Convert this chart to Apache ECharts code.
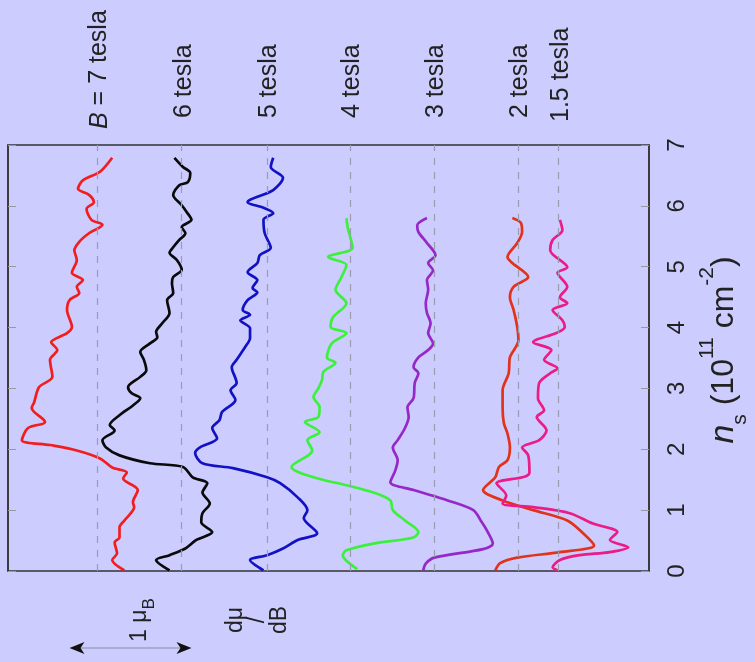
<!DOCTYPE html>
<html><head><meta charset="utf-8">
<script src="https://cdn.jsdelivr.net/npm/echarts@6/dist/echarts.min.js"></script>
<style>html,body{margin:0;padding:0;background:#ccccff;}#c{width:755px;height:662px;}</style>
</head><body><div id="c"></div>
<script>
// ---- data ----
const fieldLabels = ['{i|B} = 7 tesla', '6 tesla', '5 tesla', '4 tesla', '3 tesla', '2 tesla', '1.5 tesla'];
const baselineOffsets = [4.52, 3.83, 3.13, 2.45, 1.76, 1.07, 0.74]; // curve offsets in μB
const nsTicks = [0, 1, 2, 3, 4, 5, 6, 7];
const scaleBarStart = 3.75; // μB, left-hand scale bar of 1 μB
const scaleBarLength = 1;

const ns_B7 = [6.79,6.56,6.42,6.28,6.18,6.06,5.95,5.77,5.69,5.55,5.41,5.27,5.11,4.90,4.78,4.67,4.57,4.45,4.29,4.01,3.91,3.76,3.63,3.47,3.19,3.02,2.77,2.68,2.45,2.35,2.15,2.07,1.98,1.85,1.70,1.62,1.52,1.33,1.13,1.05,0.83,0.72,0.55,0.47,0.29,0.18,0.01];
const dmu_B7 = [-0.12,-0.02,0.12,0.16,0.07,0.03,0.09,0.05,-0.04,0.07,0.15,0.19,0.17,0.21,0.12,0.17,0.15,0.23,0.25,0.21,0.25,0.38,0.33,0.39,0.37,0.48,0.52,0.54,0.43,0.57,0.62,0.39,0.17,-0.02,-0.12,-0.24,-0.21,-0.33,-0.29,-0.30,-0.22,-0.18,-0.18,-0.14,-0.16,-0.12,-0.22];

const ns_B6 = [6.79,6.64,6.54,6.39,6.34,6.18,6.01,5.90,5.77,5.65,5.55,5.44,5.32,5.23,5.11,4.95,4.83,4.73,4.57,4.45,4.24,4.07,3.93,3.84,3.74,3.60,3.47,3.30,3.19,3.02,2.92,2.84,2.72,2.56,2.40,2.31,2.15,2.03,1.90,1.77,1.71,1.54,1.44,1.29,1.11,0.95,0.80,0.64,0.51,0.37,0.26,0.18,0.01];
const dmu_B6 = [0.06,-0.01,-0.07,-0.05,0.02,0.07,0.00,-0.04,-0.08,0.00,-0.03,0.02,0.07,0.10,0.04,0.00,0.07,0.08,0.07,0.12,0.10,0.16,0.21,0.20,0.26,0.34,0.31,0.29,0.34,0.44,0.41,0.34,0.40,0.51,0.59,0.55,0.65,0.62,0.51,0.26,-0.01,-0.09,-0.21,-0.17,-0.23,-0.17,-0.16,-0.25,-0.12,-0.03,0.10,0.21,0.10];

const ns_B5 = [6.79,6.64,6.46,6.26,6.06,5.97,5.88,5.77,5.55,5.31,5.19,5.06,4.91,4.78,4.65,4.58,4.45,4.29,4.21,4.12,3.99,3.83,3.68,3.59,3.47,3.35,3.09,2.97,2.81,2.61,2.48,2.35,2.18,2.03,1.94,1.77,1.69,1.54,1.44,1.21,1.00,0.87,0.62,0.51,0.37,0.26,0.18,0.01];
const dmu_B5 = [-0.05,-0.03,-0.13,-0.05,0.16,0.03,-0.05,0.03,0.02,-0.03,0.06,0.08,0.16,0.08,0.12,0.08,0.16,0.20,0.14,0.22,0.14,0.14,0.18,0.21,0.25,0.29,0.25,0.30,0.26,0.37,0.39,0.45,0.41,0.55,0.59,0.53,0.28,0.00,-0.11,-0.25,-0.33,-0.30,-0.41,-0.25,-0.13,0.00,0.14,0.03];

const ns_B4 = [5.80,5.65,5.31,5.16,5.03,4.83,4.62,4.40,4.17,4.01,3.91,3.74,3.51,3.42,3.27,3.14,3.00,2.86,2.69,2.53,2.45,2.28,2.15,1.98,1.71,1.54,1.41,1.29,1.16,1.00,0.83,0.64,0.55,0.45,0.34,0.26,0.03];
const dmu_B4 = [0.03,0.02,-0.02,0.18,0.03,0.07,0.12,0.03,0.14,0.16,0.03,0.15,0.19,0.12,0.22,0.23,0.26,0.30,0.25,0.26,0.37,0.25,0.35,0.31,0.48,0.30,0.03,-0.19,-0.33,-0.35,-0.45,-0.56,-0.52,-0.19,0.03,0.06,-0.06];

const ns_B3 = [5.80,5.68,5.57,5.39,5.19,5.06,4.94,4.78,4.62,4.40,4.24,4.07,3.91,3.74,3.63,3.51,3.35,3.25,3.09,2.84,2.69,2.53,2.35,2.15,2.03,1.82,1.65,1.46,1.33,1.16,1.00,0.80,0.67,0.45,0.36,0.22,0.12,0.01];
const dmu_B3 = [0.06,0.14,0.13,0.06,-0.01,0.05,0.01,0.06,0.05,0.07,0.06,0.03,0.05,0.01,0.05,0.13,0.17,0.13,0.16,0.17,0.22,0.21,0.24,0.30,0.34,0.30,0.32,0.36,0.17,-0.11,-0.32,-0.39,-0.43,-0.48,-0.40,0.00,0.07,0.09];

const ns_B2 = [5.80,5.72,5.57,5.39,5.16,5.06,4.83,4.67,4.50,4.29,4.01,3.79,3.51,3.25,2.97,2.69,2.43,2.26,2.03,1.82,1.71,1.54,1.33,1.16,1.00,0.83,0.62,0.42,0.31,0.22,0.13,0.01];
const dmu_B2 = [0.05,-0.02,-0.03,0.01,0.09,0.05,-0.08,0.04,0.07,0.04,0.01,0.00,0.07,0.08,0.13,0.13,0.12,0.09,0.07,0.09,0.16,0.19,0.29,0.13,-0.12,-0.40,-0.53,-0.62,-0.34,0.01,0.15,0.19];

const ns_B15 = [5.77,5.60,5.44,5.27,4.99,4.90,4.67,4.50,4.40,4.29,4.12,4.01,3.91,3.76,3.63,3.47,3.33,3.25,3.09,2.84,2.64,2.53,2.31,2.15,2.03,1.90,1.62,1.55,1.44,1.24,1.11,1.05,0.95,0.78,0.64,0.51,0.39,0.31,0.26,0.18,0.06,0.01];
const dmu_B15 = [-0.01,-0.03,0.05,0.07,-0.07,0.01,-0.07,-0.01,-0.07,0.05,-0.03,-0.05,0.02,0.21,0.06,0.12,0.01,0.07,0.16,0.17,0.12,0.18,0.10,0.16,0.30,0.25,0.24,0.28,0.51,0.43,0.46,0.21,-0.09,-0.28,-0.48,-0.42,-0.57,-0.42,-0.17,-0.01,0.05,0.01];

// ---- chart ----
const curves = [[ns_B7, dmu_B7], [ns_B6, dmu_B6], [ns_B5, dmu_B5], [ns_B4, dmu_B4], [ns_B3, dmu_B3], [ns_B2, dmu_B2], [ns_B15, dmu_B15]];
const colors = ['#f21d1d', '#0a0a0a', '#1212c4', '#3cf03c', '#9628c8', '#e2321a', '#ec1c86'];
const FONT = '"Liberation Sans", Arial, sans-serif';

const chart = echarts.init(document.getElementById('c'), null, {renderer: 'canvas'});

const series = [{
  type: 'line', data: [], z: 1, silent: true,
  markLine: {
    silent: true, symbol: 'none', animation: false,
    label: {show: false},
    lineStyle: {color: '#9c9cb0', type: [7, 7], width: 1.2},
    data: baselineOffsets.map(v => ({xAxis: v}))
  }
}].concat(curves.map((c, i) => ({
  type: 'line', name: String(i), z: 3,
  symbol: 'none', showSymbol: false, smooth: 0.3,
  data: c[0].map((n, k) => [baselineOffsets[i] + c[1][k], n]),
  lineStyle: {color: colors[i], width: 2.7},
  itemStyle: {color: colors[i]}
})));

chart.setOption({
  animation: false,
  backgroundColor: '#ccccff',
  grid: {left: 8, right: 106, top: 145, bottom: 91, show: true, borderColor: '#333', borderWidth: 1.5,
    backgroundColor: 'transparent', containLabel: false, outerBoundsMode: 'none'},
  xAxis: {
    type: 'value', min: 0, max: 5.254, inverse: true,
    axisLine: {show: false}, axisTick: {show: false}, axisLabel: {show: false}, splitLine: {show: false}
  },
  yAxis: [{
    type: 'value', position: 'right', min: 0, max: 7, interval: 1,
    axisLine: {show: true, lineStyle: {color: '#333', width: 1.5}},
    axisTick: {show: true, inside: true, length: 8, lineStyle: {color: '#999'}},
    axisLabel: {rotate: 90, fontSize: 24, color: '#222', margin: 16, fontFamily: FONT,
      formatter: v => nsTicks.includes(v) ? String(v) : ''},
    splitLine: {show: false},
    name: '{i|n}{s|s}{m| (10}{p|11}{m| cm}{p|-2}{m|)}',
    nameLocation: 'middle', nameRotate: 90, nameGap: 44,
    nameTextStyle: {
      fontFamily: FONT, color: '#222', fontSize: 32, padding: [0, 0, 0, 16],
      rich: {
        i: {fontStyle: 'italic', fontSize: 34, fontFamily: FONT, color: '#222', lineHeight: 54, verticalAlign: 'middle'},
        m: {fontSize: 32, fontFamily: FONT, color: '#222', lineHeight: 54, verticalAlign: 'middle'},
        s: {fontSize: 21, fontFamily: FONT, color: '#222', verticalAlign: 'bottom', lineHeight: 54},
        p: {fontSize: 21, fontFamily: FONT, color: '#222', verticalAlign: 'top', lineHeight: 54}
      }
    }
  }, {
    type: 'value', position: 'left', min: 0, max: 7, interval: 1,
    axisLine: {show: true, lineStyle: {color: '#333', width: 1.5}},
    axisTick: {show: true, inside: true, length: 8, lineStyle: {color: '#999'}},
    axisLabel: {show: false}, splitLine: {show: false}
  }],
  series: series
});

// ---- annotations placed through the axes ----
const px = v => chart.convertToPixel({xAxisIndex: 0}, v);
const graphics = [];
fieldLabels.forEach((t, i) => {
  graphics.push({
    type: 'text', x: px(baselineOffsets[i]) + 2, y: i === 0 ? 129 : (i === 6 ? 122 : 118), rotation: Math.PI / 2,
    style: {text: t, fontSize: 25, fontFamily: FONT, fill: '#222', align: 'left', verticalAlign: 'middle',
      rich: {i: {fontStyle: 'italic', fontSize: 25, fontFamily: FONT, fill: '#222'}}}
  });
});
const xa = px(scaleBarStart + scaleBarLength), xb = px(scaleBarStart);
const yBar = 648;
graphics.push({type: 'line', shape: {x1: xa + 4, y1: yBar, x2: xb - 4, y2: yBar}, style: {stroke: '#8a8a9a', lineWidth: 1}});
graphics.push({type: 'polygon', shape: {points: [[xa, yBar], [xa + 15, yBar - 6], [xa + 11, yBar], [xa + 15, yBar + 6]]}, style: {fill: '#111'}});
graphics.push({type: 'polygon', shape: {points: [[xb, yBar], [xb - 15, yBar - 6], [xb - 11, yBar], [xb - 15, yBar + 6]]}, style: {fill: '#111'}});
graphics.push({
  type: 'text', x: (xa + xb) / 2 + 9, y: 642, rotation: Math.PI / 2,
  style: {text: '1 μ{s|B}', fontSize: 23, fontFamily: FONT, fill: '#222', align: 'left', verticalAlign: 'middle',
    rich: {s: {fontSize: 17, fontFamily: FONT, fill: '#222', verticalAlign: 'bottom', lineHeight: 36}}}
});
graphics.push({
  type: 'text', x: 258, y: 620, rotation: Math.PI / 2,
  style: {text: 'dμ\n/\ndB', fontSize: 23, lineHeight: 22, fontFamily: FONT, fill: '#222', align: 'center', verticalAlign: 'middle'}
});
chart.setOption({graphic: graphics});
</script>
</body></html>
